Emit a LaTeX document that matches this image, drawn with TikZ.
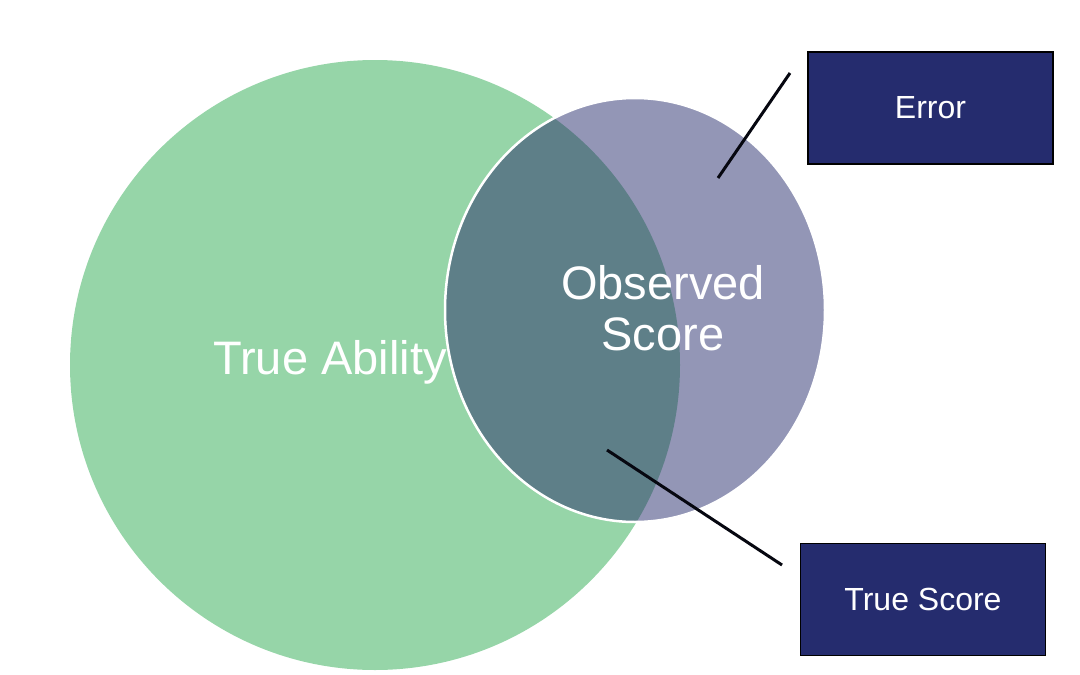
\documentclass[tikz,border=0pt]{standalone}
\usepackage{fontspec}
\setmainfont{Liberation Sans}
\usetikzlibrary{positioning}
\definecolor{ability}{HTML}{96D5A8}
\definecolor{observed}{HTML}{9396B6}
\definecolor{overlap}{HTML}{5E7F88}
\definecolor{navy}{HTML}{252C6E}
\begin{document}
\begin{tikzpicture}[x=1pt,y=-1pt,
                    lbl/.style={draw=black,line width=1.5pt,fill=navy,text=white,
                                minimum width=245pt,minimum height=112pt,font=\fontsize{32}{38}\selectfont},
                    pointer/.style={draw=black!85!navy,line width=3pt}]
\useasboundingbox (0,0) rectangle (1080,675);
\fill[ability] (375,365) circle (305);
\fill[observed] (635,310) ellipse [x radius=190,y radius=212];
\begin{scope}
  \clip (635,310) ellipse [x radius=190,y radius=212];
  \fill[overlap] (375,365) circle (305);
\end{scope}
\draw[white,line width=2.5pt] (635,310) ellipse [x radius=190,y radius=212];
\node[text=white,font=\fontsize{47}{54}\selectfont] (ability) at (330,362) {True Ability};
\node[text=white,font=\fontsize{47}{51}\selectfont,align=center] (obs) at (663,308) {Observed\\Score};
\node[lbl] (err) at (930.5,108) {Error};
\node[lbl] (ts) at (923,599.5) {True Score};
\coordinate (errtip) at (718,178);
\coordinate (errend) at (790,73);
\coordinate (tstip) at (607,450);
\coordinate (tsend) at (782,565);
\draw[pointer] (errtip) -- (errend);
\draw[pointer] (tstip) -- (tsend);
\end{tikzpicture}
\end{document}
